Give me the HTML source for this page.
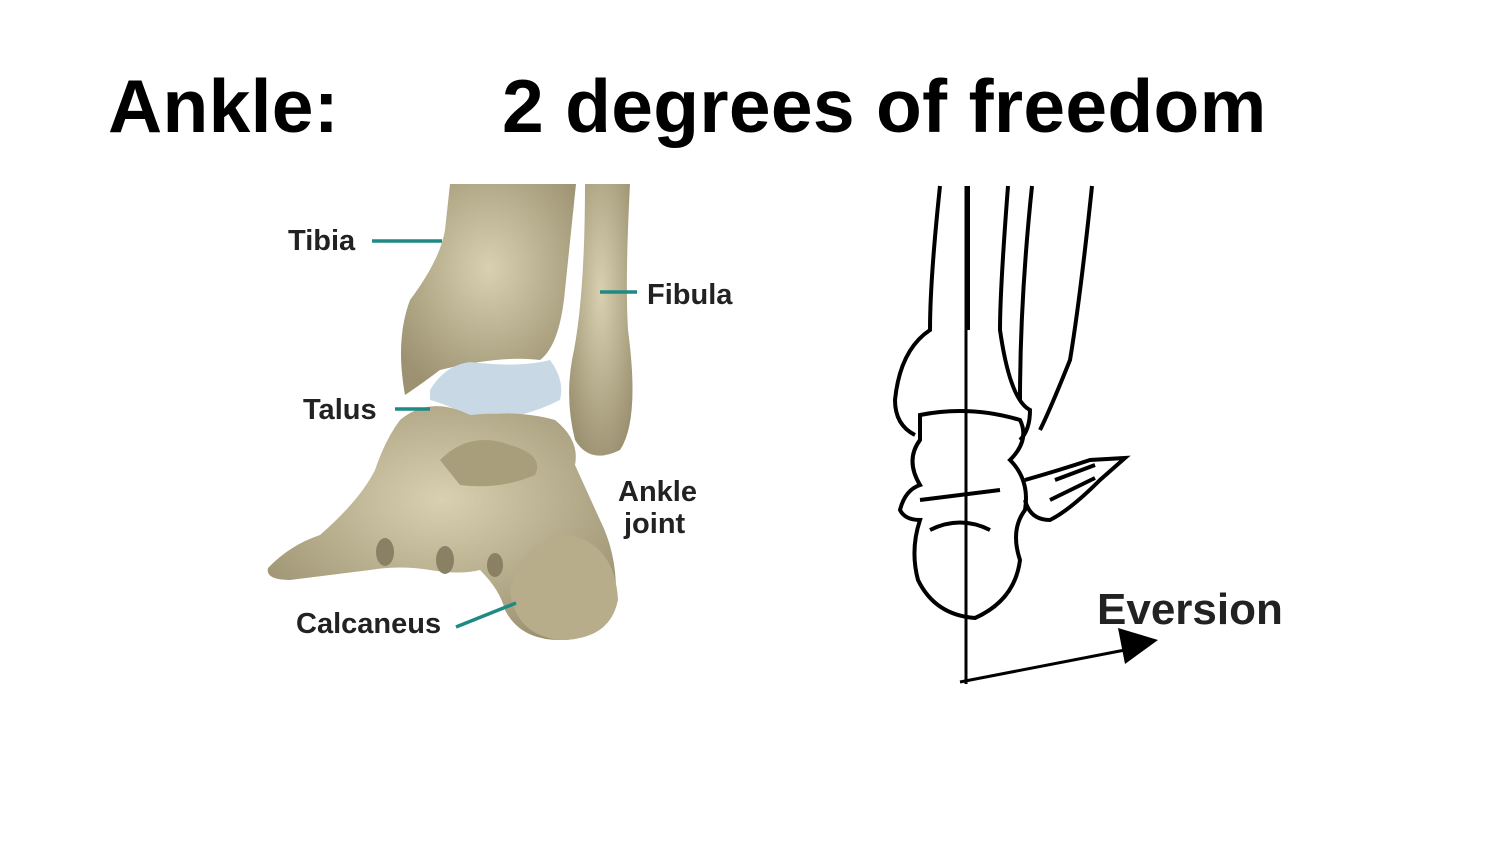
<!DOCTYPE html>
<html><head><style>
body{margin:0;width:1500px;height:844px;background:#fff;overflow:hidden;position:relative;font-family:"Liberation Sans",Arial,sans-serif}
.t{position:absolute;top:61px;font-size:75px;font-weight:bold;color:#000;line-height:90px;letter-spacing:0.3px}
</style></head><body>
<div class="t" style="left:108px">Ankle:</div>
<div class="t" style="left:502px">2 degrees of freedom</div>
<svg width="1500" height="844" style="position:absolute;left:0;top:0">
<defs>
<radialGradient id="b" cx="50%" cy="40%" r="65%"><stop offset="0" stop-color="#d8d0b0"/><stop offset="1" stop-color="#9c9272"/></radialGradient>
</defs>
<path d="M450 184 L576 184 L565 290 Q560 345 540 360 Q500 355 440 370 Q420 385 405 395 Q395 340 410 300 Q440 260 445 230 Z" fill="url(#b)"/>
<path d="M585 184 L630 184 Q625 280 628 330 Q640 420 620 450 Q590 465 575 440 Q565 400 572 360 Q585 300 585 184Z" fill="url(#b)"/>
<path d="M430 390 Q445 365 470 362 Q520 368 550 360 Q565 380 560 400 Q540 410 520 415 Q490 410 470 418 Q450 405 430 400Z" fill="#c8d8e4"/>
<path d="M400 420 Q430 395 470 415 Q520 410 555 420 Q580 440 575 465 L600 520 Q620 560 615 610 Q600 640 560 640 Q520 640 505 610 Q500 590 480 570 Q460 575 430 570 Q400 565 370 570 Q330 575 290 580 Q265 580 268 568 Q290 545 320 535 Q360 500 375 470 Q385 440 400 420Z" fill="url(#b)"/>
<path d="M510 590 Q520 540 570 535 Q615 545 618 600 Q610 640 560 640 Q515 635 510 590Z" fill="#b7ad8a"/>
<path d="M440 460 Q470 430 510 445 Q545 455 535 475 Q500 490 460 485Z" fill="#a89e7c"/>
<ellipse cx="385" cy="552" rx="9" ry="14" fill="#8a8064"/><ellipse cx="445" cy="560" rx="9" ry="14" fill="#8a8064"/><ellipse cx="495" cy="565" rx="8" ry="12" fill="#8a8064"/>
<g font-family="Liberation Sans,Arial,sans-serif" font-weight="bold" font-size="29" fill="#222">
<text x="288" y="250">Tibia</text><text x="647" y="304">Fibula</text>
<text x="303" y="419">Talus</text><text x="618" y="501">Ankle</text><text x="624" y="533">joint</text>
<text x="296" y="633">Calcaneus</text></g>
<g stroke="#1f8a84" stroke-width="3.5">
<line x1="372" y1="241" x2="442" y2="241"/><line x1="600" y1="292" x2="637" y2="292"/>
<line x1="395" y1="409" x2="430" y2="409"/><line x1="456" y1="627" x2="516" y2="603"/></g>
<g fill="none" stroke="#000" stroke-width="4">
<path d="M940 186 Q930 280 930 330 Q900 350 895 400 Q895 425 915 435"/>
<path d="M968 186 L968 330"/>
<path d="M1008 186 Q1000 290 1000 330 Q1010 400 1030 410 Q1030 430 1020 440"/>
<path d="M1032 186 Q1020 300 1020 400"/>
<path d="M1092 186 Q1080 300 1070 360 Q1050 410 1040 430"/>
<path d="M920 415 Q970 405 1020 420 Q1030 440 1010 460 Q1030 480 1025 510 Q1010 530 1020 560 Q1015 600 975 618 Q935 615 918 580 Q910 550 920 520 Q905 520 900 510 Q905 490 920 485 Q905 460 920 440Z"/>
<path d="M930 530 Q960 515 990 530"/><path d="M920 500 L1000 490"/>
<path d="M1025 480 Q1060 470 1090 460 L1125 458 L1100 480 Q1070 510 1050 520 Q1030 520 1025 500"/>
<path d="M1055 480 L1095 465 M1050 500 L1095 478"/>
</g>
<line x1="966" y1="186" x2="966" y2="684" stroke="#000" stroke-width="3"/>
<line x1="960" y1="682" x2="1125" y2="650" stroke="#000" stroke-width="3"/>
<polygon points="1158,640 1118,628 1125,664" fill="#000"/>
<text x="1097" y="624" font-family="Liberation Sans,Arial,sans-serif" font-weight="bold" font-size="44" fill="#222">Eversion</text>
</svg>
</body></html>
